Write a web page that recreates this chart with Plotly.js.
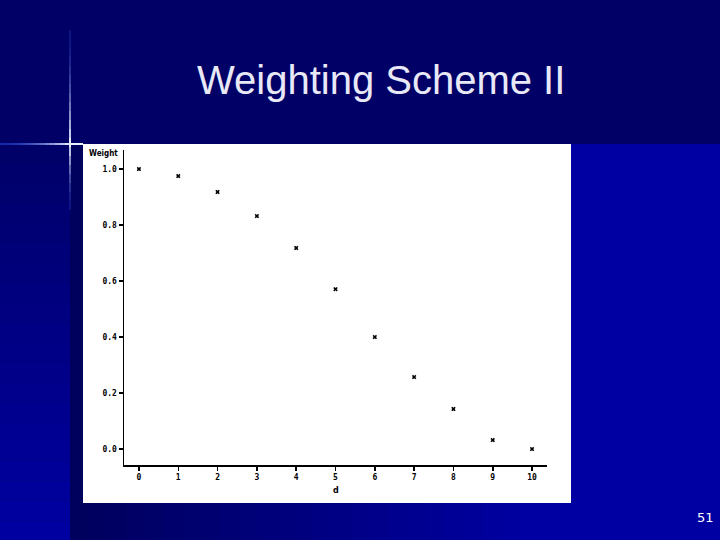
<!DOCTYPE html>
<html>
<head>
<meta charset="utf-8">
<script src="https://cdn.plot.ly/plotly-3.0.1.min.js"></script>
<style>
  html, body { margin: 0; padding: 0; background: #000066; }
  #chart { width: 720px; height: 540px; }
</style>
</head>
<body>
<div id="chart"></div>
<script>
// distance d and the weight
const distances = [0, 1, 2, 3, 4, 5, 6, 7, 8, 9, 10]
const weights = [1.0, 0.975, 0.918, 0.832, 0.718, 0.571, 0.40, 0.257, 0.143, 0.032, 0.0]

const yTicks = [0.0, 0.2, 0.4, 0.6, 0.8, 1.0]
const yTickText = ['0.0', '0.2', '0.4', '0.6', '0.8', '1.0']

const slideTitle = 'Weighting Scheme II'
const pageNumber = '51'

// pixel helpers for a 720x540 page
const px = x => x / 720
const py = y => 1 - y / 540

function mix(c0, c1, t) {
    const r = Math.round(c0[0] + (c1[0] - c0[0]) * t)
    const g = Math.round(c0[1] + (c1[1] - c0[1]) * t)
    const b = Math.round(c0[2] + (c1[2] - c0[2]) * t)
    return 'rgb(' + r + ',' + g + ',' + b + ')'
}

const trace = {
    x: distances,
    y: weights,
    mode: 'markers',
    type: 'scatter',
    marker: {
        symbol: 'x',
        size: 4,
        color: '#000000',
        line: {width: 0}
    },
    hoverinfo: 'x+y',
    showlegend: false,
    cliponaxis: false
}

const tickFont = {family: 'DejaVu Sans Mono', size: 8, color: '#000000', weight: 'bold'}

const shapes = []

// left strip: navy at the top, brighter blue at the bottom
const stripSteps = 20
for (let i = 0; i < stripSteps; i++) {
    const y0 = 144 + (540 - 144) * i / stripSteps
    const y1 = 144 + (540 - 144) * (i + 1) / stripSteps
    shapes.push({type: 'rect', xref: 'paper', yref: 'paper', x0: 0, x1: px(70), y0: py(y1), y1: py(y0),
        fillcolor: mix([0, 0, 104], [0, 0, 162], (i + 0.5) / stripSteps), line: {width: 0}, layer: 'below'})
}
// body of the slide: dark at the left, bright blue to the right
const bodySteps = 24
for (let i = 0; i < bodySteps; i++) {
    const x0 = 70 + (520 - 70) * i / bodySteps
    const x1 = 70 + (520 - 70) * (i + 1) / bodySteps + 1
    shapes.push({type: 'rect', xref: 'paper', yref: 'paper', x0: px(x0), x1: px(x1), y0: 0, y1: py(144),
        fillcolor: mix([0, 0, 92], [0, 0, 160], (i + 0.5) / bodySteps), line: {width: 0}, layer: 'below'})
}
shapes.push({type: 'rect', xref: 'paper', yref: 'paper', x0: px(520), x1: 1, y0: 0, y1: py(144),
    fillcolor: 'rgb(0,0,162)', line: {width: 0}, layer: 'below'})

// the white picture box
shapes.push({type: 'rect', xref: 'paper', yref: 'paper', x0: px(83), x1: px(571), y0: py(503), y1: py(144),
    fillcolor: '#ffffff', line: {width: 0}, layer: 'below'})

// the glare cross at the corner of the title band
const glareH = 14
for (let i = 0; i < glareH; i++) {
    const x0 = 70 * i / glareH
    const x1 = 70 * (i + 1) / glareH
    const t = Math.pow((i + 0.5) / glareH, 2)
    shapes.push({type: 'line', xref: 'paper', yref: 'paper', x0: px(x0), x1: px(x1), y0: py(144), y1: py(144),
        line: {color: mix([20, 40, 170], [235, 240, 255], t), width: 2}})
}
shapes.push({type: 'line', xref: 'paper', yref: 'paper', x0: px(70), x1: px(83), y0: py(144), y1: py(144),
    line: {color: 'rgb(235,240,255)', width: 2}})
const glareV = 20
for (let i = 0; i < glareV; i++) {
    const y0 = 30 + (210 - 30) * i / glareV
    const y1 = 30 + (210 - 30) * (i + 1) / glareV
    const mid = (y0 + y1) / 2
    const d = mid < 144 ? (144 - mid) / 114 : (mid - 144) / 66
    const t = Math.pow(Math.max(0, 1 - d), 2)
    shapes.push({type: 'line', xref: 'paper', yref: 'paper', x0: px(70), x1: px(70), y0: py(y1), y1: py(y0),
        line: {color: mix([10, 20, 130], [235, 240, 255], t), width: 2}})
}

const annotations = [
    {text: slideTitle, xref: 'paper', yref: 'paper', x: px(381), y: py(80), showarrow: false,
        xanchor: 'center', yanchor: 'middle', font: {family: 'Liberation Sans', size: 40, color: '#e8e8f6'}},
    {text: 'Weight', xref: 'paper', yref: 'paper', x: px(87), y: py(153), showarrow: false,
        xanchor: 'left', yanchor: 'middle', font: {family: 'DejaVu Sans Condensed', size: 8, color: '#000000', weight: 'bold'}},
    {text: 'd', xref: 'paper', yref: 'paper', x: px(336), y: py(490), showarrow: false,
        xanchor: 'center', yanchor: 'middle', font: {family: 'DejaVu Sans', size: 8, color: '#000000', weight: 'bold'}},
    {text: pageNumber, xref: 'paper', yref: 'paper', x: px(705), y: py(517), showarrow: false,
        xanchor: 'center', yanchor: 'middle', font: {family: 'DejaVu Sans', size: 13, color: '#ffffff'}},
]

const layout = {
    width: 720,
    height: 540,
    margin: {l: 0, r: 0, t: 0, b: 0, pad: 0},
    paper_bgcolor: '#000066',
    plot_bgcolor: 'rgba(0,0,0,0)',
    showlegend: false,
    xaxis: {
        domain: [px(124), px(547)],
        range: [-0.38, 10.38],
        tickvals: distances,
        ticktext: distances.map(String),
        ticks: 'outside',
        ticklen: 4,
        tickwidth: 1.5,
        tickcolor: '#000000',
        showline: true,
        linecolor: '#000000',
        linewidth: 1.5,
        showgrid: false,
        zeroline: false,
        tickfont: tickFont,
        anchor: 'y'
    },
    yaxis: {
        domain: [py(465), py(150)],
        range: [-0.057, 1.068],
        tickvals: yTicks,
        ticktext: yTickText,
        ticks: 'outside',
        ticklen: 4,
        tickwidth: 1.5,
        tickcolor: '#000000',
        showline: true,
        linecolor: '#000000',
        linewidth: 1.5,
        showgrid: false,
        zeroline: false,
        tickfont: tickFont,
        anchor: 'x'
    },
    shapes: shapes,
    annotations: annotations
}

Plotly.newPlot('chart', [trace], layout, {displayModeBar: false, staticPlot: true})
</script>
</body>
</html>
